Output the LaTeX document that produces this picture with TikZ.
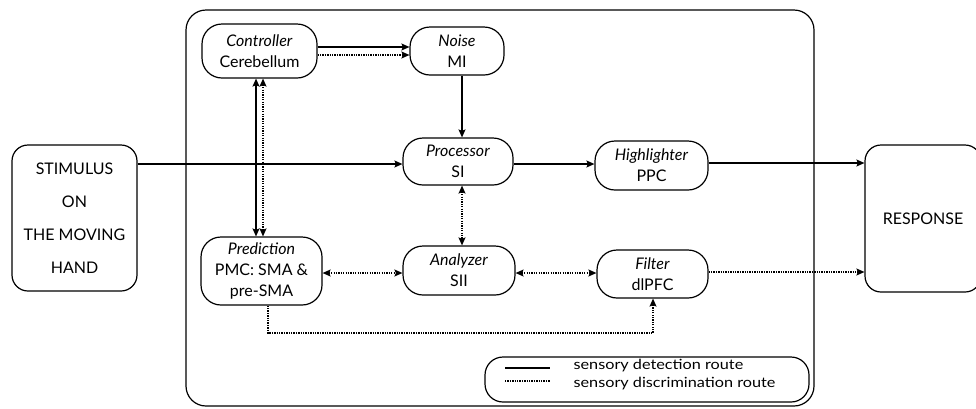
\documentclass[tikz,border=0pt]{standalone}
\usepackage{fontspec}
\setmainfont{Lato}
\newfontfamily\legfont[FakeStretch=1.16]{Lato}
\usetikzlibrary{arrows.meta,calc}
\begin{document}
\begin{tikzpicture}[x=1pt,y=-1pt,
  line width=1.2pt,
  box/.style={draw, rounded corners=20pt, align=center, inner sep=0pt,
    font=\fontsize{16}{21}\selectfont},
  bigbox/.style={draw, rounded corners=16pt, align=center, inner sep=0pt,
    font=\fontsize{16}{33}\selectfont},
  solidarrow/.style={-{Stealth[length=8pt,width=7pt,inset=1.5pt]}},
  bothsolid/.style={{Stealth[length=8pt,width=7pt,inset=1.5pt]}-{Stealth[length=8pt,width=7pt,inset=1.5pt]}},
  dots/.style={dash pattern=on 1.3pt off 1.1pt},
  dotarrow/.style={dots,-{Stealth[length=8pt,width=7pt,inset=1.5pt]}},
  bothdot/.style={dots,{Stealth[length=8pt,width=7pt,inset=1.5pt]}-{Stealth[length=8pt,width=7pt,inset=1.5pt]}},
  legtext/.style={anchor=west, inner sep=0pt, font=\legfont\fontsize{14}{14}\selectfont}
]
\useasboundingbox (0,0) rectangle (976,408);
\begin{scope}
\clip (0,0) rectangle (976,408);
% outer frame
\node (outer) [draw, rounded corners=20pt, minimum width=628pt, minimum height=396pt, inner sep=0pt] at (500,208) {};
% side boxes
\node (stim) [bigbox, minimum width=125pt, minimum height=146pt] at (74.5,218) {STIMULUS\\ON\\THE MOVING\\HAND};
\node (resp) [bigbox, minimum width=116pt, minimum height=147pt] at (923,218.5) {RESPONSE};
% inner nodes
\node (ctrl) [box, minimum width=115pt, minimum height=54pt] at (259.5,51) {\textit{Controller}\\Cerebellum};
\node (noise) [box, minimum width=94pt, minimum height=48pt] at (457,51) {\textit{Noise}\\MI};
\node (proc) [box, minimum width=110pt, minimum height=47pt] at (458,161.5) {\textit{Processor}\\SI};
\node (high) [box, minimum width=113pt, minimum height=49pt] at (651.5,165.5) {\textit{Highlighter}\\PPC};
\node (anal) [box, minimum width=112pt, minimum height=49pt] at (459,270.5) {\textit{Analyzer}\\SII};
\node (pred) [box, minimum width=121pt, minimum height=68pt] at (261.5,271) {\textit{Prediction}\\PMC: SMA \&\\pre-SMA};
\node (filt) [box, minimum width=111pt, minimum height=48pt] at (652.5,274) {\textit{Filter}\\dlPFC};
% legend
\node (legend) [draw, rounded corners=18pt, minimum width=324pt, minimum height=45pt, inner sep=0pt] at (647,379.5) {};
\coordinate (ls1) at (505,368);
\coordinate (le1) at (550,368);
\coordinate (ls2) at (505,381);
\coordinate (le2) at (550,381);
\draw (ls1) -- (le1);
\draw[dots] (ls2) -- (le2);
\node (lt1) [legtext] at (573,366) {sensory detection route};
\node (lt2) [legtext] at (573,383.5) {sensory discrimination route};
% connectors
\draw[solidarrow] (ctrl.east |- 0,47) -- (noise.west |- 0,47);
\draw[dotarrow] (ctrl.east |- 0,55) -- (noise.west |- 0,55);
\draw[bothsolid] (ctrl.south -| 256,0) -- (pred.north -| 256,0);
\draw[bothdot] (ctrl.south -| 263,0) -- (pred.north -| 263,0);
\draw[solidarrow] (noise.south -| 462,0) -- (proc.north -| 462,0);
\draw[solidarrow] (stim.east |- 0,164) -- (proc.west |- 0,164);
\draw[solidarrow] (proc.east |- 0,164) -- (high.west |- 0,164);
\draw[solidarrow] (high.east |- 0,163) -- (resp.west |- 0,163);
\draw[bothdot] (proc.south -| 462,0) -- (anal.north -| 462,0);
\draw[bothdot] (pred.east |- 0,273) -- (anal.west |- 0,273);
\draw[bothdot] (anal.east |- 0,273) -- (filt.west |- 0,273);
\draw[dotarrow] (filt.east |- 0,272) -- (resp.west |- 0,272);
\draw[dotarrow] (pred.south -| 268,0) -- (268,333) -- (653,333) -- (filt.south -| 653,0);
\end{scope}
\end{tikzpicture}
\end{document}
